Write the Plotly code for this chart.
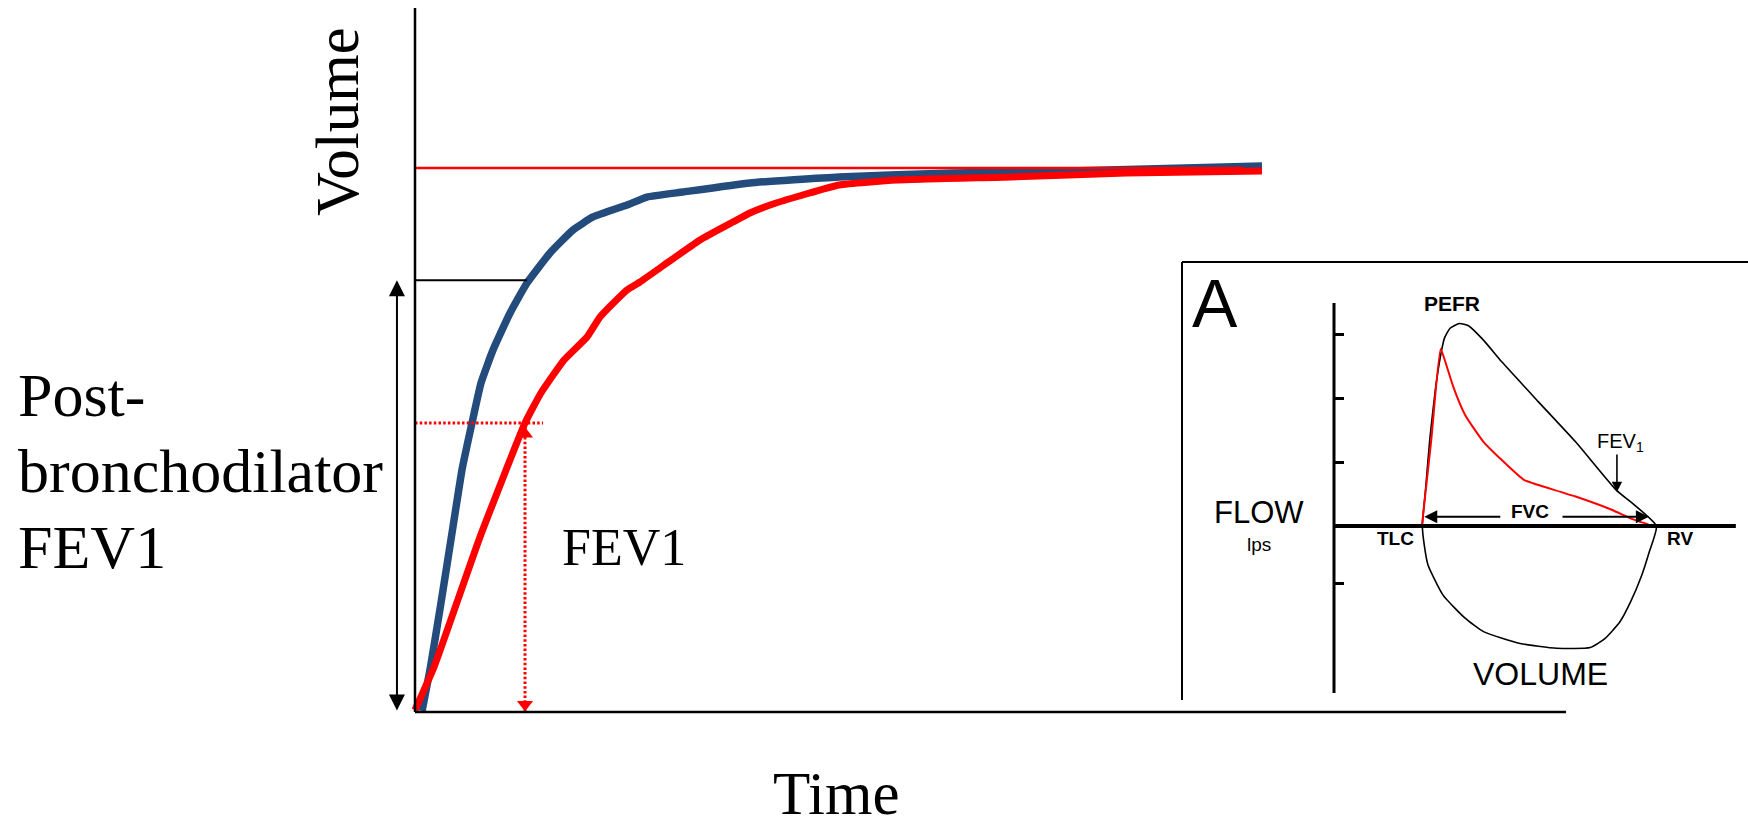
import plotly.graph_objects as go

W, H = 1748, 819

# ---------------- main chart data: time vs volume ----------------
time_blue = [0.064, 0.136, 0.236, 0.345, 0.427, 0.518, 0.600, 0.709, 0.864, 1.018, 1.227,
             1.436, 1.618, 1.927, 2.109, 2.436, 3.045, 3.855, 4.900, 5.945, 7.700]
vol_blue = [0.009, 0.358, 0.929, 1.577, 2.063, 2.463, 2.804, 3.085, 3.401, 3.656, 3.912,
            4.108, 4.219, 4.321, 4.389, 4.432, 4.509, 4.560, 4.594, 4.611, 4.654]

time_red = [0.0, 0.173, 0.591, 1.000, 1.145, 1.355, 1.564, 1.682, 1.927, 2.045, 2.291,
            2.591, 2.891, 3.045, 3.282, 3.855, 4.382, 5.418, 6.464, 7.700]
vol_red = [0.017, 0.384, 1.492, 2.463, 2.719, 3.000, 3.196, 3.367, 3.597, 3.665, 3.827,
           4.023, 4.176, 4.253, 4.338, 4.492, 4.534, 4.560, 4.594, 4.611]

pred_line_t = [0.0, 7.536]
pred_line_v = [4.636, 4.636]

post_fev1_t = [0.0, 1.018]
post_fev1_v = [3.68, 3.68]

fev1_time = 1.0
fev1_value = 2.463
fev1_h_t = [0.0, 1.164]

axis_t_end = 10.464
axis_v_end = 6.0

# ---------------- inset data: flow vs volume ----------------
exp_vol = [1.88, 1.95, 2.04, 2.16, 2.27, 2.35, 2.47, 2.67, 2.86, 3.18, 3.57, 4.35, 5.14, 6.00, 6.39, 6.86]
exp_flow = [0, 1.18, 2.74, 4.30, 5.34, 5.87, 6.18, 6.33, 6.26, 5.81, 5.13, 3.88, 2.63, 1.13, 0.66, 0]
insp_vol = [6.86, 6.71, 6.55, 6.31, 6.08, 5.77, 5.45, 4.74, 3.96, 3.18, 2.79, 2.32, 2.00, 1.92, 1.88]
insp_flow = [0, -0.80, -1.53, -2.37, -3.00, -3.51, -3.80, -3.82, -3.67, -3.30, -2.88, -2.16, -1.22, -0.59, 0]
obs_vol = [1.87, 2.07, 2.27, 2.39, 2.55, 2.79, 3.18, 3.57, 4.04, 4.35, 5.14, 5.92, 6.31, 6.79]
obs_flow = [0, 2.70, 5.53, 5.03, 4.30, 3.47, 2.63, 2.06, 1.44, 1.28, 0.92, 0.50, 0.24, 0]
flow_ticks = [6, 4, 2, -1.8]
tlc_vol, rv_vol = 1.92, 6.70
fvc_tails = [3.57, 4.83]
fvc_flow = 0.29
fev1_marker_vol = 6.02
fev1_arrow_flow = [2.28, 1.06]

BLUE = "#234B7C"
RED = "#FF0000"
SERIF = "Liberation Serif, Times New Roman, serif"
SANS = "Liberation Sans, Arial, sans-serif"


def px(x):
    return x / W


def py(y):
    return 1 - y / H


fig = go.Figure()

# main curves
fig.add_trace(go.Scatter(x=time_blue, y=vol_blue, mode="lines",
                         line=dict(color=BLUE, width=7.5, shape="spline", smoothing=0.4)))
fig.add_trace(go.Scatter(x=time_red, y=vol_red, mode="lines",
                         line=dict(color=RED, width=7, shape="spline", smoothing=0.4)))
fig.add_trace(go.Scatter(x=pred_line_t, y=pred_line_v, mode="lines",
                         line=dict(color=RED, width=2.5)))
fig.add_trace(go.Scatter(x=post_fev1_t, y=post_fev1_v, mode="lines",
                         line=dict(color="black", width=2)))
# FEV1 dotted guides
fig.add_trace(go.Scatter(x=fev1_h_t, y=[fev1_value, fev1_value], mode="lines",
                         line=dict(color=RED, width=3, dash="2.5px,2.2px")))
fig.add_trace(go.Scatter(x=[fev1_time, fev1_time], y=[fev1_value, 0], mode="lines",
                         line=dict(color=RED, width=3, dash="2.5px,2.2px")))
fig.add_trace(go.Scatter(x=[fev1_time, fev1_time], y=[2.369, 0.064], mode="markers",
                         marker=dict(symbol=["triangle-up", "triangle-down"], size=14, color=RED)))

# inset curves
fig.add_trace(go.Scatter(x=exp_vol + insp_vol[1:], y=exp_flow + insp_flow[1:], mode="lines",
                         xaxis="x2", yaxis="y2",
                         line=dict(color="black", width=1.6, shape="spline", smoothing=0.5)))
fig.add_trace(go.Scatter(x=obs_vol, y=obs_flow, mode="lines", xaxis="x2", yaxis="y2",
                         line=dict(color=RED, width=2, shape="spline", smoothing=0.5)))

shapes = [
    # main axes
    dict(type="line", xref="x", yref="y", x0=0, x1=0, y0=0, y1=axis_v_end,
         line=dict(color="black", width=2.5)),
    dict(type="line", xref="x", yref="y", x0=0, x1=axis_t_end, y0=0, y1=0,
         line=dict(color="black", width=2.5)),
    # inset frame
    dict(type="line", xref="paper", yref="paper", x0=px(1182), x1=px(1750), y0=py(262), y1=py(262),
         line=dict(color="black", width=2)),
    dict(type="line", xref="paper", yref="paper", x0=px(1182), x1=px(1182), y0=py(262), y1=py(700),
         line=dict(color="black", width=2)),
    # inset axes
    dict(type="line", xref="x2", yref="y2", x0=0, x1=0, y0=-5.22, y1=6.97,
         line=dict(color="black", width=3)),
    dict(type="line", xref="x2", yref="y2", x0=0, x1=8.55, y0=0, y1=0,
         line=dict(color="black", width=4)),
]

ann = []


def text(x, y, s, size, family=SERIF, angle=0, xanchor="center"):
    ann.append(dict(x=px(x), y=py(y), xref="paper", yref="paper", text=s, showarrow=False,
                    xanchor=xanchor, yanchor="middle", textangle=angle,
                    font=dict(family=family, size=size, color="black")))


text(337, 122, "Volume", 61, angle=-90)
text(16, 395, "Post-", 62, xanchor="left")
text(16, 471, "bronchodilator", 62, xanchor="left")
text(16, 547, "FEV1", 62, xanchor="left")
text(560, 547, "FEV1", 52, xanchor="left")
text(836, 793, "Time", 61)

text(1215, 303, "A", 68, family=SANS)
text(1452, 303, "<b>PEFR</b>", 21, family=SANS)
text(1259, 512, "FLOW", 31, family=SANS)
text(1259, 544, "lps", 19, family=SANS)
text(1395, 538, "<b>TLC</b>", 19, family=SANS)
text(1680, 538, "<b>RV</b>", 19, family=SANS)
text(1530, 511, "<b>FVC</b>", 19, family=SANS)
text(1620, 442, "FEV<sub>1</sub>", 20, family=SANS)
text(1540, 674, "VOLUME", 32, family=SANS)

# double arrow for post-bronchodilator FEV1
ann.append(dict(x=-0.164, y=post_fev1_v[0], ax=-0.164, ay=0, xref="x", yref="y", axref="x", ayref="y",
                text="", showarrow=True, arrowhead=2, arrowside="end+start", arrowsize=1.6,
                arrowwidth=2, arrowcolor="black", standoff=0, startstandoff=0))
# inset arrows
ann.append(dict(x=fev1_marker_vol, y=fev1_arrow_flow[1], ax=fev1_marker_vol, ay=fev1_arrow_flow[0],
                xref="x2", yref="y2", axref="x2", ayref="y2", text="", showarrow=True,
                arrowhead=2, arrowsize=1.3, arrowwidth=1.6, arrowcolor="black"))
ann.append(dict(x=tlc_vol, y=fvc_flow, ax=fvc_tails[0], ay=fvc_flow,
                xref="x2", yref="y2", axref="x2", ayref="y2", text="", showarrow=True,
                arrowhead=2, arrowsize=1.3, arrowwidth=2, arrowcolor="black"))
ann.append(dict(x=rv_vol, y=fvc_flow, ax=fvc_tails[1], ay=fvc_flow,
                xref="x2", yref="y2", axref="x2", ayref="y2", text="", showarrow=True,
                arrowhead=2, arrowsize=1.3, arrowwidth=2, arrowcolor="black"))

fig.update_layout(
    width=W, height=H,
    margin=dict(l=0, r=0, t=0, b=0),
    paper_bgcolor="white", plot_bgcolor="white",
    showlegend=False,
    xaxis=dict(domain=[0, 1], range=[-415 / 110, (W - 415) / 110], visible=False),
    yaxis=dict(domain=[0, 1], range=[(712 - H) / 117.33, 712 / 117.33], visible=False),
    xaxis2=dict(domain=[1182 / W, 1], anchor="y2", range=[(1182 - 1334) / 47, (W - 1334) / 47],
                visible=False),
    yaxis2=dict(domain=[(H - 700) / H, (H - 262) / H], anchor="free", position=1334 / W,
                range=[(526 - 700) / 32, (526 - 262) / 32], showgrid=False, zeroline=False,
                showline=False, showticklabels=False, ticks="inside", ticklen=9, tickwidth=3,
                tickcolor="black", tickvals=flow_ticks),
    shapes=shapes,
    annotations=ann,
)

fig.write_html("out.html")
